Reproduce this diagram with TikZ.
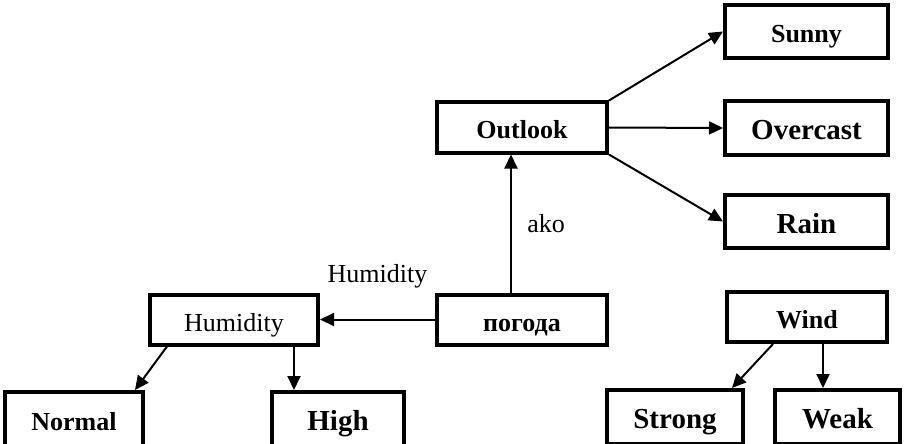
\documentclass[tikz,border=0pt]{standalone}
\usepackage{fontspec}
\setmainfont{Liberation Serif}
\usetikzlibrary{arrows.meta}

\begin{document}
\begin{tikzpicture}[x=1pt, y=-1pt,
    box/.style={draw, line width=4pt, inner sep=0pt, minimum height=50pt,
      text height=23pt, text depth=0pt,
      font=\fontsize{26}{30}\selectfont\bfseries},
    big/.style={font=\fontsize{29}{33}\selectfont\bfseries},
    plain/.style={font=\fontsize{26}{30}\selectfont},
    link/.style={line width=2pt, -{Triangle[length=14pt, width=13pt]}}]
    \clip (0,0) rectangle (914,444);
    \node[box, minimum width=170pt] (outlook) at (522,127.5) {Outlook};
    \node[box, minimum width=163pt, minimum height=53pt] (sunny) at (806.5,31.5) {Sunny};
    \node[box, big, minimum width=163pt, minimum height=53pt] (overcast) at (806.5,128) {Overcast};
    \node[box, big, minimum width=163pt, minimum height=53pt] (rain) at (806.5,221.5) {Rain};
    \node[box, minimum width=170pt] (pogoda) at (522,319.5) {погода};
    \node[box, plain, minimum width=168pt] (humidity) at (234,319.5) {Humidity};
    \node[box, minimum width=160pt] (wind) at (807,317) {Wind};
    \node[box, minimum width=138pt, minimum height=54pt] (normal) at (74,419) {Normal};
    \node[box, big, minimum width=132pt, minimum height=54pt] (high) at (338,419) {High};
    \node[box, big, minimum width=136pt, minimum height=54pt] (strong) at (675,417) {Strong};
    \node[box, big, minimum width=125pt, minimum height=54pt] (weak) at (837.5,417) {Weak};

    \draw[link] (outlook.north east) -- (sunny.west);
    \draw[link] (outlook.east) -- (overcast.west);
    \draw[link] (outlook.south east) -- (rain.west);
    \draw[link] ([xshift=-11pt]pogoda.north) -- node[plain, right=12pt] (ako) {ako} ([xshift=-11pt]outlook.south);
    \draw[link] (pogoda.west) -- node[plain, above=27pt] (hum) {Humidity} (humidity.east);
    \draw[link] ([xshift=19pt]humidity.south west) -- ([xshift=-10pt]normal.north east);
    \draw[link] ([xshift=60pt]humidity.south) -- ([xshift=60pt]humidity.south |- high.north);
    \draw[link] ([xshift=-34pt]wind.south) -- ([xshift=-13pt]strong.north east);
    \draw[link] ([xshift=16pt]wind.south) -- ([xshift=16pt]wind.south |- weak.north);
\end{tikzpicture}
\end{document}
